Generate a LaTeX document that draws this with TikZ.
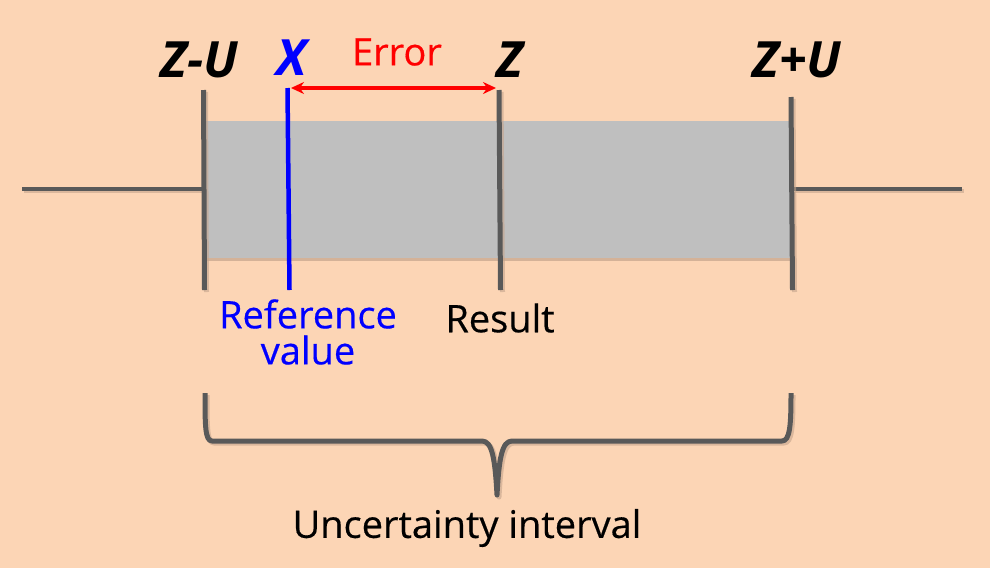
\documentclass[tikz,border=0pt]{standalone}
\usepackage{fontspec}
\setmainfont{Open Sans}
\newfontfamily\medfont{Open Sans}[FakeBold=0.4]
\usetikzlibrary{arrows.meta}
\definecolor{bg}{HTML}{FCD5B5}
\definecolor{boxgray}{HTML}{BFBFBF}
\definecolor{linegray}{HTML}{595959}
\definecolor{shadowc}{HTML}{C4A48C}
\tikzset{
  tick/.style={draw=linegray, line width=5pt},
  shad/.style={draw=shadowc, line width=5pt, opacity=0.6},
  axisline/.style={draw=linegray, line width=3.5pt},
  biglabel/.style={font=\fontsize{50}{50}\selectfont\bfseries\itshape, inner sep=0pt},
  lbl/.style={font=\medfont\fontsize{38}{33}\selectfont, inner sep=0pt, align=center},
}
\begin{document}
\begin{tikzpicture}[x=1pt,y=-1pt]
\fill[bg] (0,0) rectangle (990,568);
\useasboundingbox (0,0) rectangle (990,568);
% gray band with shadow
\fill[shadowc, opacity=0.7] (207,124) rectangle (792,261);
\fill[boxgray] (205,121) rectangle (790,258);
% axis
\coordinate (al) at (22,189);
\coordinate (ar) at (962,189);
\draw[shad, line width=3.5pt] (24,191) -- (203,191);
\draw[shad, line width=3.5pt] (795,191) -- (964,191);
\draw[axisline] (al) -- (203,189);
\draw[axisline] (793,189) -- (ar);
% ticks with shadows
\coordinate (zut) at (203.5,90); \coordinate (zub) at (204.5,290);
\coordinate (zt) at (499,90); \coordinate (zb) at (500.5,290);
\coordinate (zpt) at (791,97); \coordinate (zpb) at (792.5,290);
\draw[shad] ([shift={(2,2)}]zut) -- ([shift={(2,2)}]zub);
\draw[shad] ([shift={(2,2)}]zt) -- ([shift={(2,2)}]zb);
\draw[shad] ([shift={(2,2)}]zpt) -- ([shift={(2,2)}]zpb);
\draw[tick] (zut) -- (zub);
\draw[tick] (zt) -- (zb);
\draw[tick] (zpt) -- (zpb);
% blue reference line
\coordinate (xt) at (287.5,88); \coordinate (xb) at (289.5,290);
\draw[blue, line width=4.5pt] (xt) -- (xb);
% error arrow
\coordinate (el) at (291,88); \coordinate (er) at (496,88);
\draw[red, line width=4pt, {Stealth[length=13pt,width=12pt]}-{Stealth[length=13pt,width=12pt]}] (el) -- (er);
% labels
\node[biglabel] (lzu) at (199,60) {Z-U};
\node[biglabel, text=blue] (lx) at (292,58) {X};
\node[lbl, text=red] (lerr) at (397,52) {Error};
\node[biglabel] (lz) at (510,60) {Z};
\node[biglabel] (lzp) at (797,60) {Z+U};
\node[lbl, text=blue, font=\medfont\fontsize{38}{36}\selectfont] (lref) at (308,332) {Reference\\value};
\node[lbl] (lres) at (500,318) {Result};
\node[lbl] (lunc) at (467,528) {Uncertainty interval};
% brace
\coordinate (b1) at (205,393);
\coordinate (b2) at (497,495);
\coordinate (b3) at (791,393);
\draw[shad, line join=round] (207,395) .. controls (207,427) and (207,443) .. (214,443) -- (484,443)
  .. controls (494,443) and (497,460) .. (499,497) .. controls (501,460) and (504,443) .. (514,443)
  -- (784,443) .. controls (792,443) and (793,427) .. (793,395);
\draw[tick, line join=round] (b1) .. controls (205,425) and (205,441) .. (212,441) -- (482,441)
  .. controls (492,441) and (495,458) .. (b2) .. controls (499,458) and (502,441) .. (512,441)
  -- (782,441) .. controls (790,441) and (791,425) .. (b3);
\end{tikzpicture}
\end{document}
